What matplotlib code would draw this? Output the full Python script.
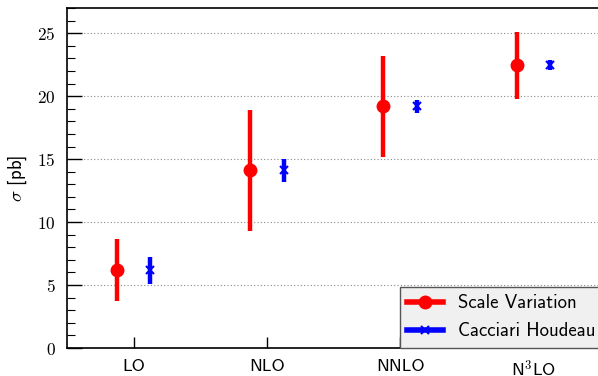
import matplotlib
matplotlib.use("Agg")
import matplotlib.pyplot as plt
from matplotlib.lines import Line2D
from matplotlib.ticker import MultipleLocator
import numpy as np

plt.rcParams['mathtext.fontset'] = 'cm'
plt.rcParams['axes.formatter.use_mathtext'] = True

orders = ["LO", "NLO", "NNLO", r"N$^3$LO"]
scale_val = [6.2, 14.1, 19.2, 22.45]
scale_lo = [3.7, 9.3, 15.2, 19.8]
scale_hi = [8.65, 18.9, 23.2, 25.1]
ch_val = [6.2, 14.1, 19.2, 22.45]
ch_lo = [5.1, 13.2, 18.7, 22.05]
ch_hi = [7.25, 15.0, 19.7, 22.85]

fig = plt.figure(figsize=(5.98, 3.76), dpi=100)
ax = fig.add_axes([67/598, 28/376, 533/598, 340/376])

x = np.arange(1, len(orders) + 1)
sv = np.array(scale_val); ch = np.array(ch_val)
ax.errorbar(x - 0.125, sv, yerr=[sv - np.array(scale_lo), np.array(scale_hi) - sv],
            fmt='o', color='#ff0000', ms=9, elinewidth=3.2, capsize=0, zorder=3)
ax.errorbar(x + 0.125, ch, yerr=[ch - np.array(ch_lo), np.array(ch_hi) - ch],
            fmt='x', color='#0000ff', ms=6, mew=1.5, elinewidth=3.2, capsize=0, zorder=3)

ax.set_xlim(0.5, 4.5)
ax.set_ylim(0, 27)
ax.set_xticks(x)
ax.set_xticklabels(orders, family='cmss10', fontsize=13)
ax.yaxis.set_major_locator(MultipleLocator(5))
ax.yaxis.set_minor_locator(MultipleLocator(1))
ax.set_yticks([0, 5, 10, 15, 20, 25])
ax.set_yticklabels([r'$%d$' % v for v in [0, 5, 10, 15, 20, 25]], fontsize=12.5)
ax.tick_params(axis='y', which='major', direction='in', length=11, width=1, pad=8, left=True, right=False)
ax.tick_params(axis='y', which='minor', direction='in', length=6, width=0.8, right=False)
ax.tick_params(axis='x', which='major', direction='in', length=8, width=1, pad=8, top=False)
ax.tick_params(axis='x', which='minor', bottom=False, top=False)
ax.set_ylabel(r'$\sigma$ [pb]', family='cmss10', fontsize=13.5, labelpad=6)

for v in [5, 10, 15, 20, 25]:
    ax.axhline(v, color='#888888', lw=0.8, ls=(0, (1, 2)), zorder=1)

for s in ax.spines.values():
    s.set_linewidth(1.2)

handles = [Line2D([], [], color='#ff0000', lw=4, marker='o', ms=9),
           Line2D([], [], color='#0000ff', lw=4, marker='x', ms=6, mew=1.5)]
leg = ax.legend(handles, ["Scale Variation", "Cacciari Houdeau"], loc='lower right',
                bbox_to_anchor=(1.005, 0), borderaxespad=0,
                prop={'family': 'cmss10', 'size': 13.5},
                fancybox=False, framealpha=1, facecolor='#f0f0f0', edgecolor='#555555',
                handlelength=1.9, handletextpad=0.8, labelspacing=0.55, borderpad=0.4)
leg.get_frame().set_linewidth(1.0)

fig.savefig("out.png", dpi=100)
